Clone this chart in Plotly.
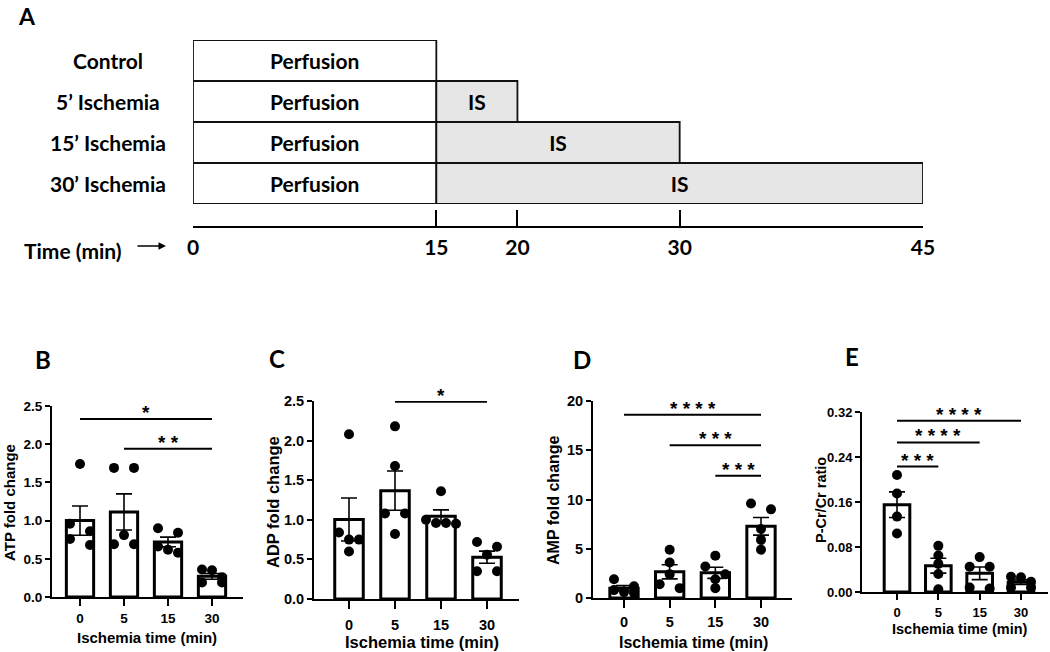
import numpy as np
import plotly.graph_objects as go

W, H = 1050, 652

# ---------------- data ----------------
protocol_rows = ["Control", "5\u2019 Ischemia", "15\u2019 Ischemia", "30\u2019 Ischemia"]
perfusion_min = [15, 15, 15, 15]
ischemia_min = [0, 5, 15, 30]
time_ticks = [0, 15, 20, 30, 45]

ischemia_groups = ["0", "5", "15", "30"]

atp_points = [[1.74, 0.96, 0.86, 0.76, 0.68],
              [1.69, 1.69, 0.81, 0.69, 0.69],
              [0.90, 0.84, 0.66, 0.62, 0.58],
              [0.36, 0.35, 0.26, 0.19, 0.19]]
adp_points = [[2.08, 0.84, 0.75, 0.75, 0.60],
              [2.18, 1.68, 1.08, 1.08, 0.82],
              [1.36, 1.00, 0.96, 0.96, 0.95],
              [0.72, 0.66, 0.56, 0.35, 0.35]]
amp_points = [[1.9, 1.2, 0.8, 0.6, 0.5],
              [4.9, 3.6, 2.4, 1.4, 1.0],
              [4.3, 3.2, 2.4, 1.9, 1.0],
              [9.6, 9.0, 7.0, 5.9, 4.9]]
pcr_points = [[0.208, 0.175, 0.134, 0.104],
              [0.082, 0.065, 0.050, 0.032, 0.005],
              [0.062, 0.045, 0.045, 0.008, 0.006],
              [0.027, 0.026, 0.018, 0.008, 0.008]]

atp_sig_from, atp_sig_to = [0, 1], [3, 3]
atp_sig_height = [2.33, 1.94]
atp_sig_label = ["*", "* *"]

adp_sig_from, adp_sig_to = [1], [3]
adp_sig_height = [2.49]
adp_sig_label = ["*"]

amp_sig_from, amp_sig_to = [0, 1, 2], [3, 3, 3]
amp_sig_height = [18.6, 15.5, 12.4]
amp_sig_label = ["* * * *", "* * *", "* * *"]

pcr_sig_from, pcr_sig_to = [0, 0, 0], [3, 2, 1]
pcr_sig_height = [0.3045, 0.266, 0.223]
pcr_sig_label = ["* * * *", "* * * *", "* * *"]

# ---------------- style / layout ----------------
F_SANS = "Liberation Sans, Arial, sans-serif"
F_DIAG = "Lato, Open Sans, sans-serif"


def pxx(p):
    return p / W


def pxy(p):
    return 1 - p / H


panels = [
    dict(letter="B", pts=atp_points, ytitle="ATP fold change",
         sig=(atp_sig_from, atp_sig_to, atp_sig_height, atp_sig_label),
         xdom=(52, 243), cats=(80, 212), ydom=(597, 406), yrange=(0, 2.5), dtick=0.5, fmt=".1f",
         letter_pos=(43, 359), ytitle_pos=(9, 503), xtitle_pos=(147, 637), tick_fs=13.5, title_fs=15,
         xticklen=7, xstand=1),
    dict(letter="C", pts=adp_points, ytitle="ADP fold change",
         sig=(adp_sig_from, adp_sig_to, adp_sig_height, adp_sig_label),
         xdom=(314, 519), cats=(349, 487), ydom=(599, 401), yrange=(0, 2.5), dtick=0.5, fmt=".1f",
         letter_pos=(277, 358), ytitle_pos=(273, 502), xtitle_pos=(422, 642), tick_fs=14.5, title_fs=16.5,
         xticklen=8, xstand=4),
    dict(letter="D", pts=amp_points, ytitle="AMP fold change",
         sig=(amp_sig_from, amp_sig_to, amp_sig_height, amp_sig_label),
         xdom=(593, 792), cats=(624, 761), ydom=(598, 401), yrange=(0, 20), dtick=5, fmt="d",
         letter_pos=(582, 359), ytitle_pos=(553, 500), xtitle_pos=(693, 642), tick_fs=14.5, title_fs=16,
         xticklen=8, xstand=2),
    dict(letter="E", pts=pcr_points, ytitle="P-Cr/Cr ratio",
         sig=(pcr_sig_from, pcr_sig_to, pcr_sig_height, pcr_sig_label),
         xdom=(862, 1048), cats=(897, 1021), ydom=(592, 412), yrange=(0, 0.32), dtick=0.08, fmt=".2f",
         letter_pos=(852, 357), ytitle_pos=(821, 500), xtitle_pos=(960, 629), tick_fs=13, title_fs=14.5,
         xticklen=6, xstand=1),
]


def swarm_offsets(vals, px_per_unit, px_per_cat, step=10.0, thresh=8.0):
    vals = np.asarray(vals, dtype=float)
    order = np.argsort(-vals, kind="stable")
    rows = []
    for i in order:
        y = vals[i] * px_per_unit
        if rows and abs(rows[-1][0] - y) < thresh:
            rows[-1][1].append(i)
        else:
            rows.append([y, [i]])
    off = np.zeros(len(vals))
    for _, idx in rows:
        n = len(idx)
        if n == 1:
            pos = [0.0]
        elif n == 2:
            pos = [-1.0, 1.0]
        else:
            pos = [j - (n - 1) / 2 for j in range(n)]
        for j, i in enumerate(idx):
            off[i] = pos[j] * step / px_per_cat
    return off


fig = go.Figure()
annotations = []
layout_axes = {}

for k, p in enumerate(panels, start=1):
    xa = "x" if k == 1 else f"x{k}"
    ya = "y" if k == 1 else f"y{k}"
    spacing = (p["cats"][1] - p["cats"][0]) / 3
    xr = [(p["xdom"][0] - p["cats"][0]) / spacing, (p["xdom"][1] - p["cats"][0]) / spacing]
    px_per_unit = (p["ydom"][0] - p["ydom"][1]) / (p["yrange"][1] - p["yrange"][0])

    means = [float(np.mean(g)) for g in p["pts"]]
    sems = [float(np.std(g, ddof=1) / np.sqrt(len(g))) for g in p["pts"]]
    xpos = list(range(len(ischemia_groups)))

    fig.add_trace(go.Bar(
        x=xpos, y=means, width=0.62, xaxis=xa, yaxis=ya, showlegend=False,
        marker=dict(color="white", line=dict(color="black", width=3)),
        error_y=dict(type="data", array=sems, visible=True, color="black", thickness=1.6, width=8),
    ))

    xs, ys = [], []
    for gi, g in enumerate(p["pts"]):
        off = swarm_offsets(g, px_per_unit, spacing)
        xs += list(gi + off)
        ys += list(g)
    fig.add_trace(go.Scatter(
        x=xs, y=ys, mode="markers", xaxis=xa, yaxis=ya, showlegend=False, cliponaxis=False,
        marker=dict(color="black", size=10, line=dict(width=0)),
    ))

    s_from, s_to, s_h, s_lab = p["sig"]
    for a, b, h, lab in zip(s_from, s_to, s_h, s_lab):
        fig.add_trace(go.Scatter(
            x=[a, b], y=[h, h], mode="lines", xaxis=xa, yaxis=ya, showlegend=False,
            line=dict(color="black", width=2), cliponaxis=False,
        ))
        annotations.append(dict(
            x=(a + b) / 2, y=h, xref=xa, yref=ya, text=lab, showarrow=False,
            yanchor="bottom", yshift=-6,
            font=dict(family=F_SANS, size=19, color="black", weight="bold"),
        ))

    base_axis = dict(showline=True, linecolor="black", linewidth=2, ticks="outside",
                     tickwidth=2, tickcolor="black", showgrid=False, zeroline=False, automargin=False,
                     tickfont=dict(family=F_SANS, size=p["tick_fs"], color="black", weight="bold"))
    layout_axes["xaxis" if k == 1 else f"xaxis{k}"] = dict(
        domain=[pxx(p["xdom"][0]), pxx(p["xdom"][1])], range=xr, anchor=ya,
        tickvals=xpos, ticktext=ischemia_groups, ticklen=p["xticklen"],
        ticklabelstandoff=p["xstand"], **base_axis)
    layout_axes["yaxis" if k == 1 else f"yaxis{k}"] = dict(
        domain=[pxy(p["ydom"][0]), pxy(p["ydom"][1])], range=list(p["yrange"]), anchor=xa,
        tick0=0, dtick=p["dtick"], tickformat=p["fmt"], ticklen=5, **base_axis)

    annotations.append(dict(x=pxx(p["letter_pos"][0]), y=pxy(p["letter_pos"][1]), xref="paper", yref="paper",
                            text=p["letter"], showarrow=False, xanchor="center", yanchor="middle",
                            font=dict(family=F_DIAG, size=24, color="black", weight="bold")))
    annotations.append(dict(x=pxx(p["ytitle_pos"][0]), y=pxy(p["ytitle_pos"][1]), xref="paper", yref="paper",
                            text=p["ytitle"], showarrow=False, textangle=-90, xanchor="center", yanchor="middle",
                            font=dict(family=F_SANS, size=p["title_fs"], color="black", weight="bold")))
    annotations.append(dict(x=pxx(p["xtitle_pos"][0]), y=pxy(p["xtitle_pos"][1]), xref="paper", yref="paper",
                            text="Ischemia time (min)", showarrow=False, xanchor="center", yanchor="middle",
                            font=dict(family=F_SANS, size=p["title_fs"], color="black", weight="bold")))

# ---------------- protocol diagram (panel A) ----------------
DIAG_FS = 21
fig.add_trace(go.Bar(
    y=protocol_rows, x=perfusion_min, base=[0] * len(protocol_rows), orientation="h", width=1.0,
    xaxis="x5", yaxis="y5", showlegend=False, cliponaxis=False,
    marker=dict(color="white", line=dict(color="#111111", width=1.8)),
    text=["Perfusion"] * len(protocol_rows), textposition="inside", insidetextanchor="middle",
    textangle=0, constraintext="none",
    textfont=dict(family=F_DIAG, size=DIAG_FS, color="black", weight="bold"),
))
is_rows = [r for r, m in zip(protocol_rows, ischemia_min) if m > 0]
is_len = [m for m in ischemia_min if m > 0]
is_base = [p for p, m in zip(perfusion_min, ischemia_min) if m > 0]
fig.add_trace(go.Bar(
    y=is_rows, x=is_len, base=is_base, orientation="h", width=1.0,
    xaxis="x5", yaxis="y5", showlegend=False, cliponaxis=False,
    marker=dict(color="#e6e6e6", line=dict(color="#111111", width=1.8)),
    text=["IS"] * len(is_rows), textposition="inside", insidetextanchor="middle",
    textangle=0, constraintext="none",
    textfont=dict(family=F_DIAG, size=DIAG_FS, color="black", weight="bold"),
))
# invisible trace to instantiate the timeline axis
fig.add_trace(go.Scatter(x=[time_ticks[0], time_ticks[-1]], y=[0, 0], mode="markers",
                         marker=dict(opacity=0), xaxis="x6", yaxis="y6", showlegend=False,
                         hoverinfo="skip"))

diag_x = [pxx(193), pxx(923)]
layout_axes["xaxis5"] = dict(domain=diag_x, range=[0, 45], anchor="y5", visible=False)
layout_axes["yaxis5"] = dict(domain=[pxy(204), pxy(40)], range=[len(protocol_rows) - 0.5, -0.5],
                             type="category", categoryorder="array", categoryarray=protocol_rows,
                             anchor="x5", visible=False)
layout_axes["xaxis6"] = dict(domain=diag_x, range=[0, 45], anchor="y6", showline=True, linecolor="black",
                             linewidth=2, ticks="inside", ticklen=16, tickwidth=2, tickcolor="black",
                             tickvals=time_ticks, ticktext=[str(t) for t in time_ticks],
                             showgrid=False, zeroline=False, ticklabelstandoff=2, automargin=False,
                             tickfont=dict(family=F_DIAG, size=DIAG_FS, color="black", weight="bold"))
layout_axes["yaxis6"] = dict(domain=[pxy(226), pxy(214)], range=[-1, 1], anchor="x6", visible=False)

for r in protocol_rows:
    annotations.append(dict(x=pxx(108), y=r, xref="paper", yref="y5", text=r, showarrow=False,
                            xanchor="center", yanchor="middle",
                            font=dict(family=F_DIAG, size=DIAG_FS, color="black", weight="bold")))
annotations.append(dict(x=pxx(73), y=pxy(250), xref="paper", yref="paper", text="Time (min)",
                        showarrow=False, xanchor="center", yanchor="middle",
                        font=dict(family=F_DIAG, size=DIAG_FS, color="black", weight="bold")))
annotations.append(dict(x=pxx(166), y=pxy(246), xref="paper", yref="paper", text="", showarrow=True,
                        ax=-30, ay=0, arrowhead=2, arrowsize=1, arrowwidth=1.5, arrowcolor="black"))
annotations.append(dict(x=pxx(27), y=1.0, xref="paper", yref="paper", text="A", showarrow=False,
                        xanchor="center", yanchor="top",
                        font=dict(family=F_DIAG, size=23, color="black", weight="bold")))

fig.update_layout(
    width=W, height=H, margin=dict(l=0, r=0, t=0, b=0, autoexpand=False),
    paper_bgcolor="white", plot_bgcolor="white",
    annotations=annotations, showlegend=False, bargap=0.3, barmode="overlay",
    **layout_axes,
)

fig.write_html("out.html", config={"displayModeBar": False},
               post_script="document.body.style.margin='0';document.documentElement.style.overflow='hidden';")
